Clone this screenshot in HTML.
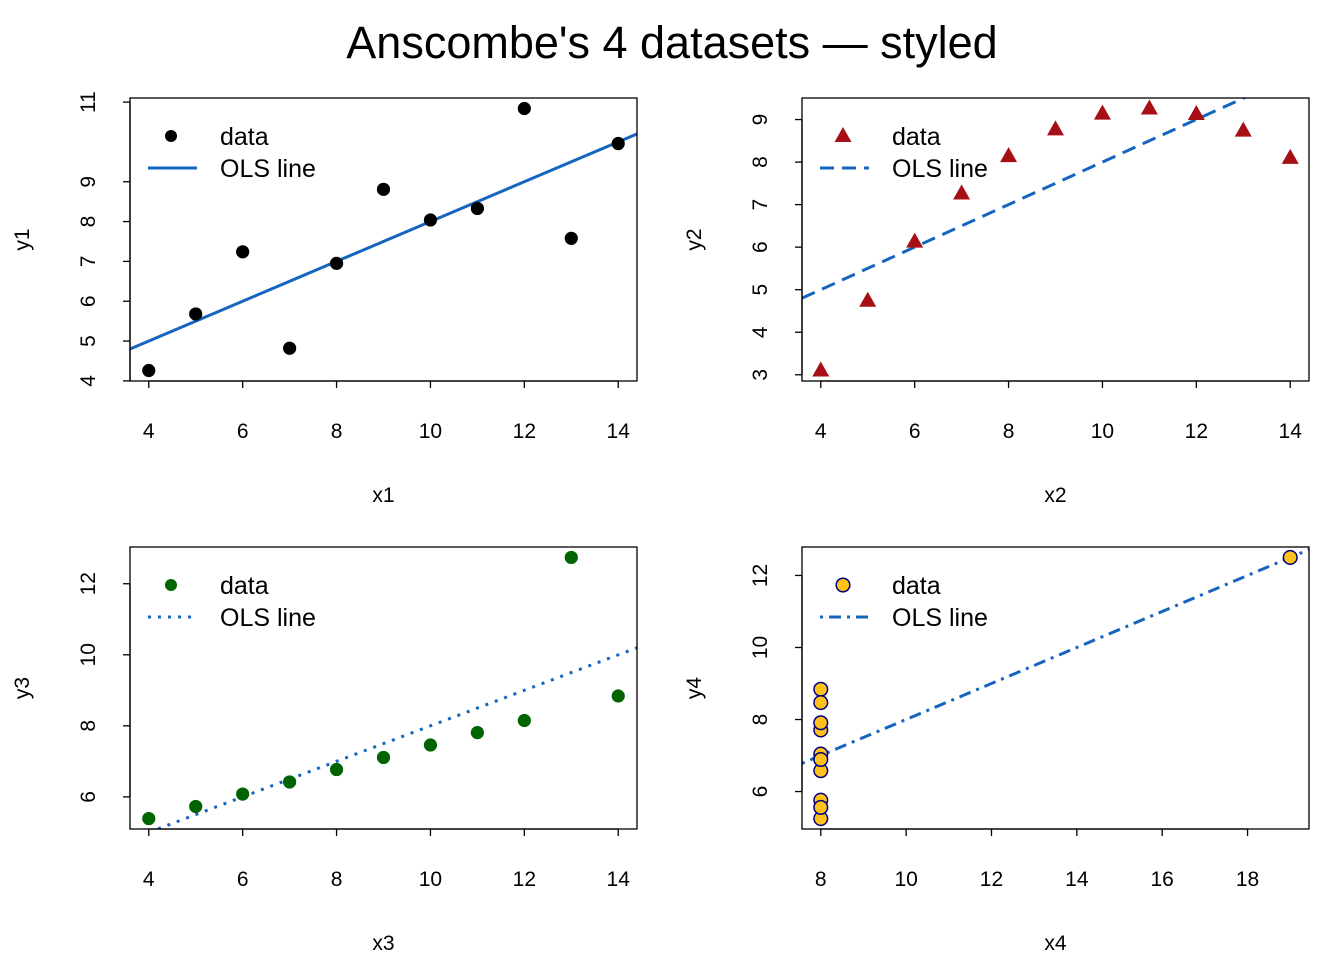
<!DOCTYPE html>
<html><head><meta charset="utf-8"><style>
body{margin:0;background:#fff;}
svg{display:block;font-family:"Liberation Sans",Arial,sans-serif;}
</style></head><body>
<svg id="c" width="1344" height="960">
<text x="672" y="58" font-size="45" text-anchor="middle">Anscombe's 4 datasets — styled</text>
</svg>
<script>
const xA = [10,8,13,9,11,14,6,4,12,7,5];
const y1 = [8.04,6.95,7.58,8.81,8.33,9.96,7.24,4.26,10.84,4.82,5.68];
const y2 = [9.14,8.14,8.74,8.77,9.26,8.10,6.13,3.10,9.13,7.26,4.74];
const y3 = [7.46,6.77,12.74,7.11,7.81,8.84,6.08,5.39,8.15,6.42,5.73];
const x4 = [8,8,8,8,8,8,8,19,8,8,8];
const y4 = [6.58,5.76,7.71,8.84,8.47,7.04,5.25,12.50,5.56,7.91,6.89];
const xt1 = [4,6,8,10,12,14];
const yt1 = [4,5,6,7,8,9,11];
const yt2 = [3,4,5,6,7,8,9];
const yt3 = [6,8,10,12];
const xt4 = [8,10,12,14,16,18];
const yt4 = [6,8,10,12];

const NS="http://www.w3.org/2000/svg";
const svg=document.getElementById('c');
function mk(tag,attrs,parent){const e=document.createElementNS(NS,tag);for(const k in attrs)e.setAttribute(k,attrs[k]);(parent||svg).appendChild(e);return e;}
function ext(a){const mn=Math.min(...a),mx=Math.max(...a),d=(mx-mn)*0.04;return [mn-d,mx+d];}
function ols(x,y){const n=x.length,mx=x.reduce((s,v)=>s+v,0)/n,my=y.reduce((s,v)=>s+v,0)/n;let sxy=0,sxx=0;for(let i=0;i<n;i++){sxy+=(x[i]-mx)*(y[i]-my);sxx+=(x[i]-mx)**2;}const b=sxy/sxx;return [my-b*mx,b];}

const panels=[
 {x:xA,y:y1,xt:xt1,yt:yt1,box:[130,98,637,381],xl:'x1',yl:'y1',pch:'circle',col:'#000',dash:'',id:'1'},
 {x:xA,y:y2,xt:xt1,yt:yt2,box:[802,98,1309,381],xl:'x2',yl:'y2',pch:'tri',col:'#A50F15',dash:'14 8',id:'2'},
 {x:xA,y:y3,xt:xt1,yt:yt3,box:[130,547,637,829],xl:'x3',yl:'y3',pch:'circle',col:'#006400',dash:'3 7',id:'3'},
 {x:x4,y:y4,xt:xt4,yt:yt4,box:[802,547,1309,829],xl:'x4',yl:'y4',pch:'gold',col:'#FFC21A',dash:'3 6 12 6',id:'4'}
];
panels.forEach(p=>{
 const [L,T,R,B]=p.box;
 const [x0,x1]=ext(p.x),[ya,yb]=ext(p.y);
 const sx=v=>L+(v-x0)/(x1-x0)*(R-L);
 const sy=v=>B-(v-ya)/(yb-ya)*(B-T);
 const g=mk('g',{});
 
 
 const cp=mk('clipPath',{id:'cp'+p.id},g);mk('rect',{x:L,y:T,width:R-L,height:B-T},cp);
 const [a,b]=ols(p.x,p.y);
 const ln=mk('line',{x1:sx(x0),y1:sy(a+b*x0),x2:sx(x1),y2:sy(a+b*x1),stroke:'#1565C0','stroke-width':3,'stroke-dasharray':p.dash,'clip-path':'url(#cp'+p.id+')'},g);
 
 
 function pt(cx,cy,parent){
  let e;
  if(p.pch==='tri'){e=mk('polygon',{points:`${cx},${cy-9} ${cx-8.5},${cy+6} ${cx+8.5},${cy+6}`,fill:p.col},parent);}
  else if(p.pch==='gold'){e=mk('circle',{cx,cy,r:6.8,fill:p.col,stroke:'#000080','stroke-width':1.5},parent);}
  else {e=mk('circle',{cx,cy,r:6.6,fill:p.col},parent);}
  return e;
 }
 for(let i=0;i<p.x.length;i++){
  const e=pt(sx(p.x[i]),sy(p.y[i]),g);
  
  
 }
 mk('rect',{x:L,y:T,width:R-L,height:B-T,fill:'none',stroke:'#000','stroke-width':1.3},g);
 const xs=p.xt.map(sx);
 mk('line',{x1:xs[0],y1:B,x2:xs[xs.length-1],y2:B,stroke:'#000','stroke-width':1.3},g);
 p.xt.forEach(v=>{
  mk('line',{x1:sx(v),y1:B,x2:sx(v),y2:B+7,stroke:'#000','stroke-width':1.3},g);
  const t=mk('text',{x:sx(v),y:B+57,'font-size':21,'text-anchor':'middle'},g);t.textContent=v;
  
  
 });
 const ys=p.yt.map(sy);
 mk('line',{x1:L,y1:ys[0],x2:L,y2:ys[ys.length-1],stroke:'#000','stroke-width':1.3},g);
 p.yt.forEach(v=>{
  mk('line',{x1:L,y1:sy(v),x2:L-7,y2:sy(v),stroke:'#000','stroke-width':1.3},g);
  const t=mk('text',{x:0,y:0,'font-size':21,'text-anchor':'middle',transform:`translate(${L-35},${sy(v)}) rotate(-90)`},g);t.textContent=v;
  
  
 });
 const xl=mk('text',{x:(L+R)/2,y:B+121,'font-size':21,'text-anchor':'middle'},g);xl.textContent=p.xl;
 
 
 const yl=mk('text',{x:0,y:0,'font-size':21,'text-anchor':'middle',transform:`translate(${L-101},${(T+B)/2}) rotate(-90)`},g);yl.textContent=p.yl;
 
 
 const lg=mk('g',{},g);
 
 
 pt(L+41,T+38,lg);
 if(p.pch==='circle'){lg.lastChild.setAttribute('r',6);}
 mk('line',{x1:L+18,y1:T+70,x2:L+67,y2:T+70,stroke:'#1565C0','stroke-width':3,'stroke-dasharray':p.dash},lg);
 const t1=mk('text',{x:L+90,y:T+47,'font-size':25},lg);t1.textContent='data';
 const t2=mk('text',{x:L+90,y:T+79,'font-size':25},lg);t2.textContent='OLS line';
});
</script>
</body></html>
